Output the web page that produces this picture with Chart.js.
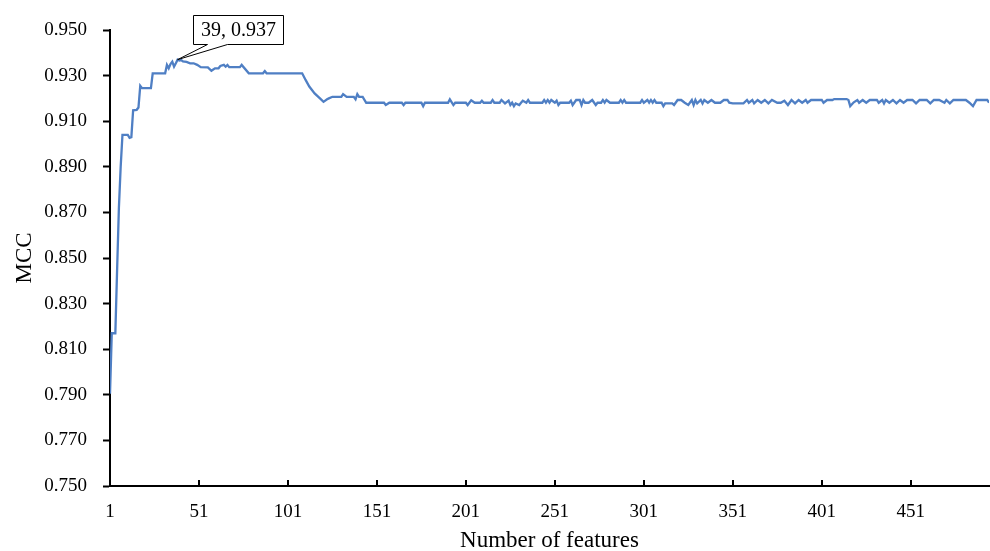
<!DOCTYPE html>
<html>
<head>
<meta charset="utf-8">
<script src="https://cdn.jsdelivr.net/npm/chart.js@4"></script>
<style>
  html, body { margin: 0; padding: 0; background: #ffffff; }
  #wrap { width: 990px; height: 551px; }
</style>
</head>
<body>
<div id="wrap"><canvas id="c" width="990" height="551"></canvas></div>
<script>
// ---- data ----
const featureNums = [
  1, 2, 4, 5, 6, 7, 8, 11, 12, 13, 14, 16, 17, 18, 19, 24, 25, 32,
  33, 34, 35, 36, 37, 38, 39, 40, 41, 42, 44, 46, 48, 50, 52, 56, 58, 60, 62, 63, 65, 66, 67, 68, 74, 75, 79, 87, 88, 89, 109,
  111, 113, 116, 119, 121, 123, 124, 126, 131, 132, 134, 138, 139, 140, 141, 143, 145, 155, 156, 158, 165, 166, 167, 176, 177, 178, 191, 192, 194, 195, 201, 202, 204, 206,
  209, 210, 211, 215, 216, 217, 220, 221, 223, 225, 226, 227, 228, 229, 231, 232, 233, 235, 236, 237, 244, 245, 246, 247, 248, 249, 251, 252, 253, 254, 259, 260, 261, 263, 265, 266, 267, 268, 270, 272, 274, 275, 277, 278, 279, 280, 282, 287, 288, 289, 290, 291, 299, 300, 301, 303, 304, 305, 306, 307, 308, 311, 312, 313, 317, 318, 320, 322, 324, 326, 328, 329, 330, 331, 333, 334, 335, 337, 339, 341, 344, 346, 348, 349, 351, 357, 359, 360, 362, 363, 365, 367, 369, 371, 373, 376, 378, 380, 382, 384, 386, 388, 390, 392, 393, 395, 401, 402, 404, 407, 408, 415, 416, 417, 419, 421, 422, 424, 426, 428, 432, 433, 435, 436, 437, 439, 441, 443, 445, 447, 449, 452, 454, 456, 460, 462, 464, 467, 470, 471, 473, 475, 482, 484, 486, 488, 494, 495
];
const mccValues = [
  0.7905, 0.817, 0.817, 0.845, 0.872, 0.890, 0.904, 0.904, 0.9027, 0.9030, 0.9148, 0.9150, 0.9160, 0.9255, 0.9245, 0.9245, 0.9310, 0.9310,
  0.9347, 0.9332, 0.9351, 0.9361, 0.9339, 0.9354, 0.9370, 0.9366, 0.9368, 0.9362, 0.9360, 0.9354, 0.9354, 0.9347, 0.9337, 0.9336, 0.9321, 0.9332, 0.9332, 0.9342, 0.9347, 0.9339, 0.9347, 0.9337, 0.9337, 0.9347, 0.9310, 0.9310, 0.9320, 0.9310, 0.9310,
  0.9280, 0.9252, 0.9222, 0.9200, 0.9185, 0.9196, 0.9200, 0.9207, 0.9207, 0.9219, 0.9207, 0.9207, 0.9196, 0.9219, 0.9207, 0.9207, 0.9181, 0.9181, 0.9171, 0.9181, 0.9181, 0.9171, 0.9181, 0.9181, 0.9166, 0.9181, 0.9181, 0.9196, 0.9171, 0.9181, 0.9181, 0.9171, 0.9192, 0.9181,
  0.9181, 0.9190, 0.9181, 0.9181, 0.9193, 0.9181, 0.9181, 0.9193, 0.9178, 0.9190, 0.9171, 0.9181, 0.9166, 0.9178, 0.9171, 0.9181, 0.9190, 0.9181, 0.9193, 0.9181, 0.9181, 0.9193, 0.9181, 0.9193, 0.9181, 0.9193, 0.9181, 0.9190, 0.9171, 0.9181, 0.9181, 0.9190, 0.9171, 0.9193, 0.9193, 0.9171, 0.9193, 0.9181, 0.9181, 0.9193, 0.9171, 0.9181, 0.9181, 0.9193, 0.9181, 0.9193, 0.9181, 0.9181, 0.9193, 0.9181, 0.9193, 0.9181, 0.9181, 0.9193, 0.9181, 0.9193, 0.9181, 0.9193, 0.9181, 0.9193, 0.9181, 0.9181, 0.9166, 0.9178, 0.9178, 0.9171, 0.9193, 0.9193, 0.9181, 0.9171, 0.9193, 0.9171, 0.9193, 0.9178, 0.9193, 0.9178, 0.9193, 0.9181, 0.9193, 0.9181, 0.9181, 0.9193, 0.9193, 0.9181, 0.9178, 0.9178, 0.9193, 0.9181, 0.9193, 0.9178, 0.9193, 0.9181, 0.9193, 0.9178, 0.9193, 0.9181, 0.9181, 0.9190, 0.9171, 0.9193, 0.9178, 0.9193, 0.9181, 0.9193, 0.9181, 0.9193, 0.9193, 0.9181, 0.9193, 0.9193, 0.9197, 0.9197, 0.9193, 0.9166, 0.9183, 0.9193, 0.9181, 0.9193, 0.9181, 0.9193, 0.9193, 0.9181, 0.9193, 0.9178, 0.9193, 0.9181, 0.9193, 0.9178, 0.9193, 0.9181, 0.9193, 0.9193, 0.9178, 0.9193, 0.9193, 0.9178, 0.9193, 0.9193, 0.9181, 0.9193, 0.9178, 0.9193, 0.9193, 0.9181, 0.9166, 0.9193, 0.9193, 0.9181
];
const xTickValues = [1, 51, 101, 151, 201, 251, 301, 351, 401, 451];
const yTickMin = 0.75, yTickMax = 0.95, yTickStep = 0.02;
const peakFeature = 39, peakMcc = 0.937;
const peakLabel = '39, 0.937';
const xTitle = 'Number of features';
const yTitle = 'MCC';

const FONT = "'Liberation Serif', 'Times New Roman', serif";

const calloutPlugin = {
  id: 'callout',
  afterDatasetsDraw(chart) {
    const ctx = chart.ctx;
    const xs = chart.scales.x, ys = chart.scales.y;
    // inner x tick marks
    ctx.save();
    ctx.strokeStyle = '#000';
    ctx.lineWidth = 2;
    const yb = chart.chartArea.bottom;
    xTickValues.forEach(v => {
      if (v === xTickValues[0]) return;
      const px = Math.round(xs.getPixelForValue(v));
      ctx.beginPath();
      ctx.moveTo(px, yb);
      ctx.lineTo(px, yb - 6);
      ctx.stroke();
    });
    ctx.restore();
    // callout
    const tx = xs.getPixelForValue(peakFeature);
    const ty = ys.getPixelForValue(peakMcc);
    const bl = Math.round(tx + 15) + 0.5, bt = Math.round(ty - 45) + 0.5;
    const bw = 90, bh = 29;
    ctx.save();
    ctx.beginPath();
    ctx.moveTo(bl, bt);
    ctx.lineTo(bl + bw, bt);
    ctx.lineTo(bl + bw, bt + bh);
    ctx.lineTo(bl + 34, bt + bh);
    ctx.lineTo(tx, ty);
    ctx.lineTo(bl + 14, bt + bh);
    ctx.lineTo(bl, bt + bh);
    ctx.closePath();
    ctx.fillStyle = '#fff';
    ctx.fill();
    ctx.strokeStyle = '#000';
    ctx.lineWidth = 1;
    ctx.stroke();
    ctx.fillStyle = '#000';
    ctx.font = '20px ' + FONT;
    ctx.textAlign = 'center';
    ctx.textBaseline = 'middle';
    ctx.fillText(peakLabel, bl + bw / 2, bt + bh / 2 + 1);
    ctx.restore();
  }
};

new Chart(document.getElementById('c'), {
  type: 'line',
  data: {
    datasets: [{
      data: featureNums.map((f, i) => ({ x: f, y: mccValues[i] })),
      borderColor: '#4f7fc4',
      borderWidth: 2.3,
      pointRadius: 0,
      tension: 0,
      fill: false
    }]
  },
  options: {
    responsive: false,
    animation: false,
    devicePixelRatio: 1,
    layout: { padding: { left: 11, right: 1, top: 30, bottom: 0 } },
    plugins: { legend: { display: false }, tooltip: { enabled: false } },
    scales: {
      x: {
        type: 'linear',
        min: 1,
        max: 495,
        afterBuildTicks: (scale) => { scale.ticks = xTickValues.map(v => ({ value: v })); },
        afterFit: (scale) => { scale.height = 65; },
        grid: { display: true, drawOnChartArea: false, drawTicks: false },
        border: { display: true, color: '#000', width: 2 },
        ticks: {
          color: '#000',
          font: { family: FONT, size: 19 },
          padding: 15,
          maxRotation: 0,
          autoSkip: false,
          callback: (v) => String(v)
        },
        title: {
          display: true, text: xTitle, color: '#000',
          font: { family: FONT, size: 23, lineHeight: 0.85 }, padding: { top: 2, bottom: 0 }
        }
      },
      y: {
        min: yTickMin,
        max: yTickMax,
        afterFit: (scale) => { scale.width = 99; },
        ticks: {
          stepSize: yTickStep,
          color: '#000',
          font: { family: FONT, size: 19 },
          padding: 16,
          callback: (v) => Number(v).toFixed(3)
        },
        grid: { display: true, drawOnChartArea: false, drawTicks: true, tickLength: 7, tickWidth: 2, tickColor: '#000' },
        border: { display: true, color: '#000', width: 2 },
        title: {
          display: true, text: yTitle, color: '#000',
          font: { family: FONT, size: 23 }, padding: { top: 0, bottom: 4 }
        }
      }
    }
  },
  plugins: [calloutPlugin]
});
</script>
</body>
</html>
